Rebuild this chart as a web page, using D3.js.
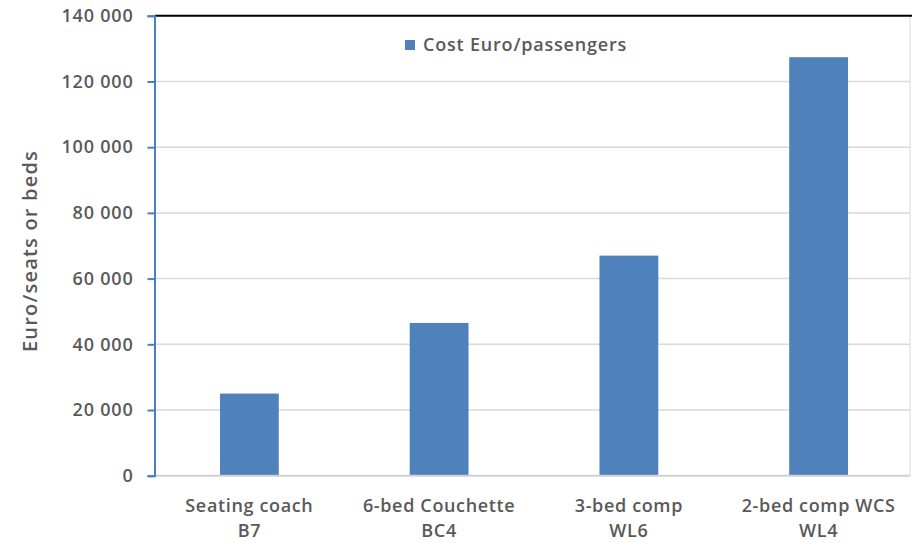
<!DOCTYPE html>
<html>
<head>
<meta charset="utf-8">
<script src="https://cdn.jsdelivr.net/npm/d3@7/dist/d3.min.js"></script>
<style>
  html, body { margin: 0; padding: 0; background: #fff; }
  svg { display: block; }
  text { font-family: "Open Sans", sans-serif; fill: #595959; }
</style>
</head>
<body>
<svg id="chart" width="912" height="543"></svg>
<script>
// Cost per seat / bed for each coach type
const categories = [
  ["Seating coach", "B7"],
  ["6-bed Couchette", "BC4"],
  ["3-bed comp", "WL6"],
  ["2-bed comp WCS", "WL4"]
];
const costValues = [25000, 46500, 67000, 127400];
const yTicks = [0, 20000, 40000, 60000, 80000, 100000, 120000, 140000];
const seriesName = "Cost Euro/passengers";
const yTitle = "Euro/seats or beds";

const svg = d3.select("#chart");
const margin = { left: 154.5, right: -1.5, top: 15.8, bottom: 67.3 };
const W = 912, H = 543;
const barColor = "#4F81BD";
const FONT = "\"Open Sans\", sans-serif";

const x = d3.scaleBand()
  .domain(d3.range(categories.length))
  .range([margin.left, W - margin.right])
  .paddingInner(0.69)
  .paddingOuter(0.345);

const y = d3.scaleLinear()
  .domain([0, 140000])
  .range([H - margin.bottom, margin.top]);

const fmt = v => d3.format(",")(v).replace(/,/g, " ");

// horizontal gridlines
svg.append("g")
  .selectAll("line")
  .data(yTicks.filter(t => t > 0 && t < 140000))
  .join("line")
  .attr("x1", margin.left).attr("x2", 910)
  .attr("y1", d => y(d)).attr("y2", d => y(d))
  .attr("stroke", "#d9d9d9").attr("stroke-width", 1.5);

// right frame edge
svg.append("line")
  .attr("x1", 910).attr("x2", 910)
  .attr("y1", y(140000)).attr("y2", y(0))
  .attr("stroke", "#d9d9d9").attr("stroke-width", 1);

// bars
svg.append("g")
  .selectAll("rect")
  .data(costValues)
  .join("rect")
  .attr("x", (d, i) => x(i))
  .attr("width", x.bandwidth())
  .attr("y", d => y(d))
  .attr("height", d => y(0) - y(d))
  .attr("fill", barColor);

// baseline
svg.append("line")
  .attr("x1", margin.left).attr("x2", 910)
  .attr("y1", y(0)).attr("y2", y(0))
  .attr("stroke", "#d0d0d0").attr("stroke-width", 2);

// top edge
svg.append("line")
  .attr("x1", margin.left).attr("x2", W)
  .attr("y1", y(140000)).attr("y2", y(140000))
  .attr("stroke", "#000").attr("stroke-width", 2);

// y axis
const yAxis = svg.append("g")
  .attr("transform", `translate(${margin.left},0)`)
  .call(d3.axisLeft(y).tickValues(yTicks).tickFormat(fmt).tickSize(7).tickPadding(14));
yAxis.select(".domain").attr("stroke", "#4a7fc4").attr("stroke-width", 2);
yAxis.selectAll(".tick line").attr("stroke", "#4a7fc4").attr("stroke-width", 2);
yAxis.selectAll(".tick text")
  .attr("font-size", 18).attr("font-weight", 600)
  .attr("letter-spacing", 0.8)
  .style("font-family", FONT).attr("fill", "#595959");

// x category labels (two lines)
const xl = svg.append("g").selectAll("text")
  .data(categories)
  .join("text")
  .attr("x", (d, i) => x(i) + x.bandwidth() / 2)
  .attr("y", 512)
  .attr("text-anchor", "middle")
  .attr("font-size", 18).attr("font-weight", 600)
  .attr("letter-spacing", 0.65);
xl.append("tspan").attr("x", (d, i) => x(i) + x.bandwidth() / 2).text(d => d[0]);
xl.append("tspan").attr("x", (d, i) => x(i) + x.bandwidth() / 2).attr("dy", 24.5).text(d => d[1]);

// y axis title
svg.append("text")
  .attr("transform", "translate(37,251) rotate(-90)")
  .attr("text-anchor", "middle")
  .attr("font-size", 20).attr("font-weight", 600)
  .attr("letter-spacing", 1.2)
  .text(yTitle);

// legend
const lg = svg.append("g").attr("transform", "translate(405,45)");
lg.append("rect").attr("x", 0).attr("y", -5).attr("width", 10).attr("height", 10).attr("fill", barColor);
lg.append("text").attr("x", 18).attr("y", 6)
  .attr("font-size", 18).attr("font-weight", 600)
  .attr("letter-spacing", 0.8)
  .text(seriesName);
</script>
</body>
</html>
